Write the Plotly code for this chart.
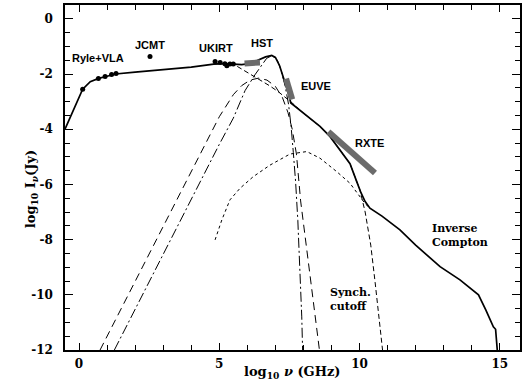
import plotly.graph_objects as go

# ---------------- data ----------------
# total model (solid)
total_x = [-0.5, -0.2, 0.13, 0.4, 0.7, 1.0, 1.3, 2.0, 3.0, 4.0, 4.8, 5.2, 5.5, 5.8, 6.1, 6.4, 6.65, 6.87,
           7.0, 7.15, 7.3, 7.45, 7.55, 8.0, 8.59, 8.95, 9.3, 9.66, 9.9, 10.05, 10.2, 10.37, 10.8, 11.44,
           12.0, 12.87, 13.58, 14.24, 14.5, 14.77, 14.85, 14.91]
total_y = [-4.0, -3.3, -2.55, -2.28, -2.16, -2.08, -2.0, -1.93, -1.84, -1.75, -1.64, -1.62, -1.64, -1.66,
           -1.62, -1.5, -1.38, -1.33, -1.4, -1.7, -2.15, -2.65, -3.05, -3.42, -3.9, -4.27, -4.75, -5.25,
           -5.9, -6.3, -6.62, -6.86, -7.15, -7.65, -8.2, -8.98, -9.46, -10.0, -10.55, -11.16, -11.25, -12.0]

# synchrotron with cutoff (dashed)
synch_x = [4.8, 5.3, 5.6, 5.9, 6.2, 6.5, 6.8, 7.1, 7.4, 7.6, 8.0, 8.59, 8.95, 9.3, 9.66, 9.9, 10.0,
           10.2, 10.4, 10.55, 10.7, 10.82]
synch_y = [-1.64, -1.63, -1.7, -1.88, -2.07, -2.26, -2.43, -2.64, -2.88, -3.05, -3.42, -3.9, -4.27,
           -4.75, -5.25, -5.9, -6.15, -7.0, -8.2, -9.5, -11.0, -12.0]

# thermal component 1 (long dashes)
bb1_x = [0.75, 2.0, 3.0, 4.0, 4.5, 5.0, 5.5, 5.8, 6.1, 6.4, 6.7, 7.0, 7.25, 7.45, 7.6, 7.75, 7.9,
         8.1, 8.3, 8.45, 8.57]
bb1_y = [-12.0, -9.5, -7.5, -5.5, -4.5, -3.55, -2.75, -2.42, -2.22, -2.15, -2.22, -2.45, -2.85, -3.4,
         -4.0, -4.9, -6.6, -8.2, -9.8, -11.0, -12.0]

# thermal component 2 (dash-dot)
bb2_x = [1.26, 2.5, 4.0, 5.0, 5.5, 5.92, 6.27, 6.51, 6.69, 6.87, 7.05, 7.2, 7.35, 7.47, 7.56, 7.64,
         7.72, 7.8, 7.88, 7.94, 7.97]
bb2_y = [-12.0, -9.52, -6.52, -4.55, -3.6, -2.6, -2.03, -1.67, -1.43, -1.34, -1.45, -1.85, -2.45, -3.1,
         -3.9, -4.85, -5.9, -7.3, -9.0, -10.8, -12.0]

# inverse Compton (short dashes)
ic_x = [4.85, 5.09, 5.38, 5.74, 6.21, 6.81, 7.52, 8.12, 8.59, 9.19, 9.66, 10.02, 10.2, 10.37]
ic_y = [-8.01, -7.29, -6.56, -6.14, -5.72, -5.3, -4.9, -4.81, -5.05, -5.54, -5.96, -6.44, -6.7, -6.86]

# observed points
pts_x = [0.13, 0.69, 0.93, 1.16, 1.32, 2.53, 4.85, 5.03, 5.2, 5.27, 5.38, 5.5]
pts_y = [-2.55, -2.16, -2.09, -2.02, -1.98, -1.37, -1.55, -1.58, -1.63, -1.70, -1.64, -1.64]

# instrument bands (grey bars): start/end
hst_x, hst_y = [5.9, 6.45], [-1.62, -1.58]
euve_x, euve_y = [7.38, 7.6], [-2.17, -2.92]
rxte_x, rxte_y = [8.89, 10.55], [-4.09, -5.59]

# labels
lab_text = ["Ryle+VLA", "JCMT", "UKIRT", "HST", "EUVE", "RXTE"]
lab_x = [0.69, 2.53, 4.88, 6.54, 8.46, 10.37]
lab_y = [-1.43, -0.94, -1.06, -0.88, -2.45, -4.51]

xticks = [0, 5, 10, 15]
yticks = [0, -2, -4, -6, -8, -10, -12]

# ---------------- figure ----------------
fig = go.Figure()

fig.add_trace(go.Scatter(x=ic_x, y=ic_y, mode="lines",
                         line=dict(color="black", width=1, dash="3px,3px")))
fig.add_trace(go.Scatter(x=bb1_x, y=bb1_y, mode="lines",
                         line=dict(color="black", width=1, dash="8px,5px")))
fig.add_trace(go.Scatter(x=bb2_x, y=bb2_y, mode="lines",
                         line=dict(color="black", width=1, dash="10px,3px,2px,3px")))
fig.add_trace(go.Scatter(x=synch_x, y=synch_y, mode="lines",
                         line=dict(color="black", width=1, dash="5px,3px")))
fig.add_trace(go.Scatter(x=total_x, y=total_y, mode="lines",
                         line=dict(color="black", width=1.7)))
for bx, by in [(hst_x, hst_y), (euve_x, euve_y), (rxte_x, rxte_y)]:
    fig.add_trace(go.Scatter(x=bx, y=by, mode="lines",
                             line=dict(color="#6b6b6b", width=6)))
fig.add_trace(go.Scatter(x=pts_x, y=pts_y, mode="markers",
                         marker=dict(color="black", size=5)))

for t, x, y in zip(lab_text, lab_x, lab_y):
    fig.add_annotation(x=x, y=y, text="<b>%s</b>" % t, showarrow=False,
                       font=dict(family="Liberation Sans, Arial", size=11, color="black"))

serif = "DejaVu Serif"
fig.add_annotation(x=12.51, y=-7.86, text="<b>Inverse<br>Compton</b>", showarrow=False,
                   xanchor="left", align="left",
                   font=dict(family=serif, size=11, color="black"))
fig.add_annotation(x=8.89, y=-10.16, text="<b>Synch.<br>cutoff</b>", showarrow=False,
                   xanchor="left", align="left",
                   font=dict(family=serif, size=11, color="black"))

# axis titles
fig.add_annotation(xref="paper", yref="paper", x=0.499, y=-0.095,
                   text="<b>log<sub>10</sub> <i>ν</i> (GHz)</b>", showarrow=False,
                   font=dict(family=serif, size=13, color="black"))
fig.add_annotation(xref="paper", yref="paper", x=-0.095, y=0.467, textangle=-90,
                   text="<b>log<sub>10</sub> I<sub><i>ν</i></sub>(Jy)</b>", showarrow=False,
                   font=dict(family=serif, size=13, color="black"))

axis_common = dict(showgrid=False, zeroline=False, showline=True, linecolor="black", linewidth=1.5,
                   mirror="ticks", ticks="inside", tickcolor="black", tickwidth=1, automargin=False,
                   tickfont=dict(family=serif, size=12, color="black", weight="bold"))

fig.update_xaxes(range=[-0.5, 15.72], tickmode="array", tickvals=xticks,
                 ticktext=[str(v) for v in xticks], ticklen=7, ticklabelstandoff=2,
                 minor=dict(tickmode="linear", tick0=0, dtick=1, ticklen=5, ticks="inside",
                            tickcolor="black", tickwidth=1),
                 **axis_common)
fig.update_yaxes(range=[-12, 0.5], tickmode="array", tickvals=yticks,
                 ticktext=[str(v) for v in yticks], ticklen=8, ticklabelstandoff=8,
                 minor=dict(tickmode="linear", tick0=0, dtick=0.5, ticklen=5, ticks="inside",
                            tickcolor="black", tickwidth=1),
                 **axis_common)

fig.update_layout(width=527, height=388, showlegend=False, template="none",
                  margin=dict(l=65, r=7, t=5, b=38, autoexpand=False),
                  paper_bgcolor="white", plot_bgcolor="white")

fig.write_html("out.html", config={"displayModeBar": False},
               post_script="document.body.style.margin='0px';document.body.style.padding='0px';")
